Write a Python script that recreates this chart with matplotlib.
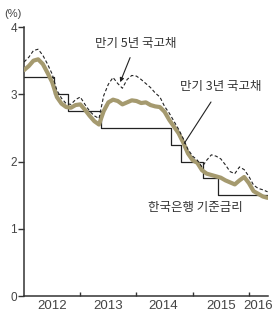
import matplotlib
matplotlib.use("Agg")
import matplotlib.pyplot as plt
import numpy as np

plt.rcParams['font.family'] = ['Noto Sans CJK KR', 'DejaVu Sans']

# monthly series, Jan 2012 .. May 2016 (x = 2012 + i/12)
bond3y = [3.36, 3.42, 3.50, 3.52, 3.45, 3.32, 3.18, 2.96, 2.86, 2.81, 2.80, 2.84,
          2.85, 2.77, 2.68, 2.60, 2.55, 2.75, 2.88, 2.92, 2.90, 2.85, 2.88, 2.91,
          2.90, 2.87, 2.88, 2.84, 2.82, 2.81, 2.74, 2.62, 2.52, 2.42, 2.28, 2.12,
          2.02, 1.98, 1.87, 1.82, 1.80, 1.78, 1.76, 1.72, 1.69, 1.66, 1.72, 1.77,
          1.68, 1.56, 1.52, 1.48, 1.46]
bond5y = [3.48, 3.55, 3.65, 3.67, 3.58, 3.45, 3.30, 3.06, 2.94, 2.86, 2.85, 2.92,
          2.96, 2.85, 2.75, 2.68, 2.64, 2.98, 3.15, 3.25, 3.16, 3.09, 3.22, 3.28,
          3.27, 3.22, 3.16, 3.10, 3.02, 2.96, 2.82, 2.72, 2.60, 2.48, 2.34, 2.18,
          2.08, 2.02, 1.92, 2.02, 2.10, 2.08, 2.04, 1.95, 1.85, 1.82, 1.92, 1.88,
          1.78, 1.65, 1.60, 1.58, 1.55]
dates = [2012 + i / 12 for i in range(len(bond3y))]

base_dates = [2012.0, 2012.53, 2012.78, 2013.36, 2014.62, 2014.79, 2015.19, 2015.45, 2016.34]
base_rate = [3.25, 3.00, 2.75, 2.50, 2.25, 2.00, 1.75, 1.50, 1.50]

year_labels = ['2012', '2013', '2014', '2015', '2016']
year_label_pos = [2012.5, 2013.5, 2014.47, 2015.5, 2016.16]
year_ticks = [2013, 2014, 2015, 2016]
y_ticks = [0, 1, 2, 3, 4]

fig = plt.figure(figsize=(2.8, 3.18), dpi=100)
ax = fig.add_axes([0.086, 0.069, 0.871, 0.846])

ax.step(base_dates, base_rate, where='post', color='#222222', lw=0.9, zorder=2)
ax.plot(dates, bond3y, color='#a59a6f', lw=3.0, solid_capstyle='round', zorder=3)
ax.plot(dates, bond5y, color='#222222', lw=0.8, dashes=(3, 2), zorder=4)

ax.set_xlim(2012.0, 2016.34)
ax.set_ylim(0, 4)

for s in ['top', 'right']:
    ax.spines[s].set_visible(False)
for s in ['left', 'bottom']:
    ax.spines[s].set_color('#333333')
    ax.spines[s].set_linewidth(1.1)

ax.set_yticks(y_ticks)
ax.set_yticklabels([str(v) for v in y_ticks], family='Liberation Sans', fontsize=8.5, color='#444444')
ax.tick_params(axis='y', direction='out', length=4, width=1, color='#333333', pad=1)

ax.set_xticks(year_ticks)
ax.set_xticklabels([])
ax.tick_params(axis='x', which='major', direction='in', length=3, width=1, color='#333333')
ax.set_xticks(year_label_pos, minor=True)
ax.set_xticklabels(year_labels, minor=True, family='Liberation Sans', fontsize=9.5, color='#444444')
ax.tick_params(axis='x', which='minor', length=0, pad=3)

fig.text(0.016, 0.955, '(%)', fontsize=8, color='#444444', family='Liberation Sans', va='center')

ax.annotate('만기 5년 국고채', xy=(2013.71, 3.18), xytext=(2013.99, 3.76),
            fontsize=9, color='#333333', ha='center', va='center',
            arrowprops=dict(arrowstyle='-|>', color='#222222', lw=0.8, mutation_scale=6,
                            shrinkA=4, shrinkB=0))
ax.annotate('만기 3년 국고채', xy=(2014.85, 2.27), xytext=(2015.5, 3.11),
            fontsize=9, color='#333333', ha='center', va='center',
            arrowprops=dict(arrowstyle='-', color='#222222', lw=0.8, shrinkA=5, shrinkB=0))
ax.text(2015.04, 1.31, '한국은행 기준금리', fontsize=9, color='#333333', ha='center', va='center')

fig.savefig('out.png', dpi=100)
